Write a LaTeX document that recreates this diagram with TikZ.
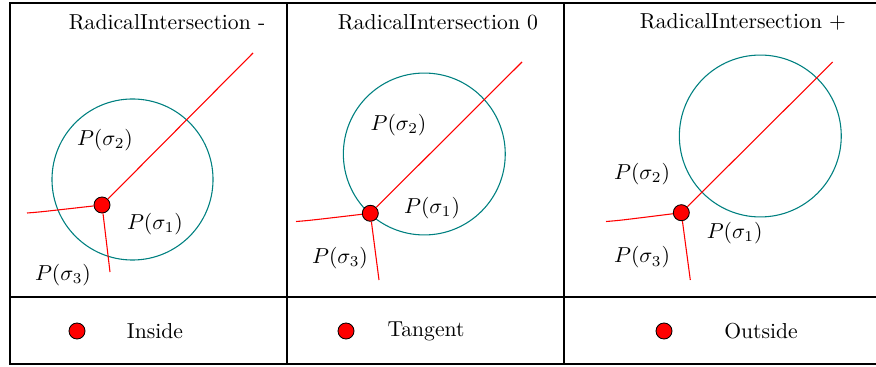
\documentclass[tikz,border=0pt]{standalone}
\usetikzlibrary{positioning}
\begin{document}
\begin{tikzpicture}[
  x=0.462pt, y=-0.462pt,
  frame/.style={draw=black, line width=0.6pt},
  sphere/.style={draw=teal, line width=0.5pt},
  radical/.style={draw=red, line width=0.5pt},
  pnt/.style={circle, draw=black, fill=red, minimum size=7.4pt,
    inner sep=0pt, line width=0.4pt},
]
  \useasboundingbox (0,0) rectangle (876,367);

  % table frame
  \draw[frame] (10,3) rectangle (890,364);
  \draw[frame] (10,297) -- (890,297);
  \draw[frame] (287,3) -- (287,364);
  \draw[frame] (564,3) -- (564,364);

  % inside
  \node (titleA) at (167,22) {RadicalIntersection -};
  \draw[sphere] (132.5,179.5) circle[radius=37.2pt];
  \coordinate (farA)  at (253,53);
  \coordinate (leftA) at (27,213);
  \coordinate (downA) at (110,272);
  \node[pnt] (dotA) at (102,205) {};
  \draw[radical] (dotA) -- (farA);
  \draw[radical] (dotA) .. controls (40,212) .. (leftA);
  \draw[radical] (dotA) -- (downA);
  \node (sigA2) at (105,140) {$P(\sigma_2)$};
  \node (sigA1) at (155,224) {$P(\sigma_1)$};
  \node (sigA3) at (63,275)  {$P(\sigma_3)$};

  % tangent
  \node (titleB) at (438,22) {RadicalIntersection 0};
  \draw[sphere] (424.3,154) circle[radius=37.4pt];
  \coordinate (farB)  at (522,62);
  \coordinate (leftB) at (296,221.5);
  \coordinate (downB) at (379,280);
  \node[pnt] (dotB) at (370.3,213.3) {};
  \draw[radical] (dotB) -- (farB);
  \draw[radical] (dotB) .. controls (309,220.5) .. (leftB);
  \draw[radical] (dotB) -- (downB);
  \node (sigB2) at (398.5,125) {$P(\sigma_2)$};
  \node (sigB1) at (432,208)   {$P(\sigma_1)$};
  \node (sigB3) at (340,258)   {$P(\sigma_3)$};

  % outside
  \node (titleC) at (743,22) {RadicalIntersection $+$};
  \draw[sphere] (760.3,136) circle[radius=37.4pt];
  \coordinate (farC)  at (832.7,62);
  \coordinate (leftC) at (606,221.5);
  \coordinate (downC) at (690.3,280);
  \node[pnt] (dotC) at (681.3,212.7) {};
  \draw[radical] (dotC) -- (farC);
  \draw[radical] (dotC) .. controls (619,220.5) .. (leftC);
  \draw[radical] (dotC) -- (downC);
  \node (sigC2) at (642,174)   {$P(\sigma_2)$};
  \node (sigC1) at (734.7,233) {$P(\sigma_1)$};
  \node (sigC3) at (642,257.5) {$P(\sigma_3)$};

  % legend row
  \node[pnt] (keyA) at (77,331) {};
  \node (inside)  at (155,331) {Inside};
  \node[pnt] (keyB) at (346,331) {};
  \node (tangent) at (426,331) {Tangent};
  \node[pnt] (keyC) at (664,331) {};
  \node (outside) at (761,331) {Outside};
\end{tikzpicture}
\end{document}
